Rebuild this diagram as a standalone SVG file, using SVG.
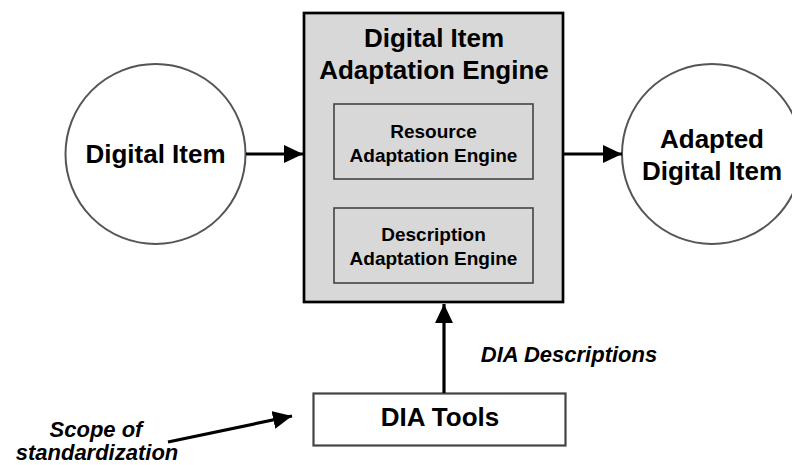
<svg xmlns="http://www.w3.org/2000/svg" width="792" height="465" viewBox="0 0 792 465">
<style>
.t{font-family:"Liberation Sans",Arial,sans-serif;font-weight:bold;fill:#000;text-anchor:middle}
.it{font-style:italic}
.circ{fill:#fff;stroke:#555;stroke-width:2}
.main{fill:#d8d8d8;stroke:#000;stroke-width:2.7}
.inner{fill:#d8d8d8;stroke:#444;stroke-width:1.6}
.tool{fill:#fff;stroke:#444;stroke-width:2.2}
.conn{stroke:#000;stroke-width:3.2;fill:none;marker-end:url(#ah)}
</style>
<defs>
<marker id="ah" markerUnits="userSpaceOnUse" markerWidth="20" markerHeight="18" refX="19" refY="9" orient="auto">
<path d="M0,0 L19,9 L0,18 Z" fill="#000"/>
</marker>
</defs>
<rect width="792" height="465" fill="#fff"/>
<g id="digital-item">
<circle class="circ" cx="155.5" cy="154" r="90"/>
<text class="t" x="155.5" y="163" font-size="26">Digital Item</text>
</g>
<g id="adapted-digital-item">
<circle class="circ" cx="712" cy="154" r="90"/>
<text class="t" x="712" y="148" font-size="26">Adapted</text>
<text class="t" x="712" y="180" font-size="26">Digital Item</text>
</g>
<g id="dia-engine">
<rect class="main" x="304" y="13" width="259" height="289"/>
<text class="t" x="434" y="47" font-size="26">Digital Item</text>
<text class="t" x="434" y="79" font-size="26">Adaptation Engine</text>
</g>
<g id="resource-engine">
<rect class="inner" x="334" y="104" width="199" height="75"/>
<text class="t" x="433.5" y="137.5" font-size="19">Resource</text>
<text class="t" x="433.5" y="161.5" font-size="19">Adaptation Engine</text>
</g>
<g id="description-engine">
<rect class="inner" x="334" y="208" width="199" height="75"/>
<text class="t" x="433.5" y="241" font-size="19">Description</text>
<text class="t" x="433.5" y="265" font-size="19">Adaptation Engine</text>
</g>
<g id="dia-tools">
<rect class="tool" x="313.5" y="393.5" width="252" height="52"/>
<text class="t" x="440" y="426" font-size="26">DIA Tools</text>
</g>
<g id="labels">
<text class="t it" x="569" y="362" font-size="22">DIA Descriptions</text>
<text class="t it" x="96" y="437" font-size="22">Scope of</text>
<text class="t it" x="97" y="460" font-size="22">standardization</text>
</g>
<g id="connectors">
<line class="conn" x1="246" y1="154" x2="303" y2="154"/>
<line class="conn" x1="564" y1="154" x2="622" y2="154"/>
<line class="conn" x1="444" y1="393" x2="444" y2="304"/>
<line class="conn" x1="168" y1="442" x2="292" y2="416"/>
</g>
</svg>
